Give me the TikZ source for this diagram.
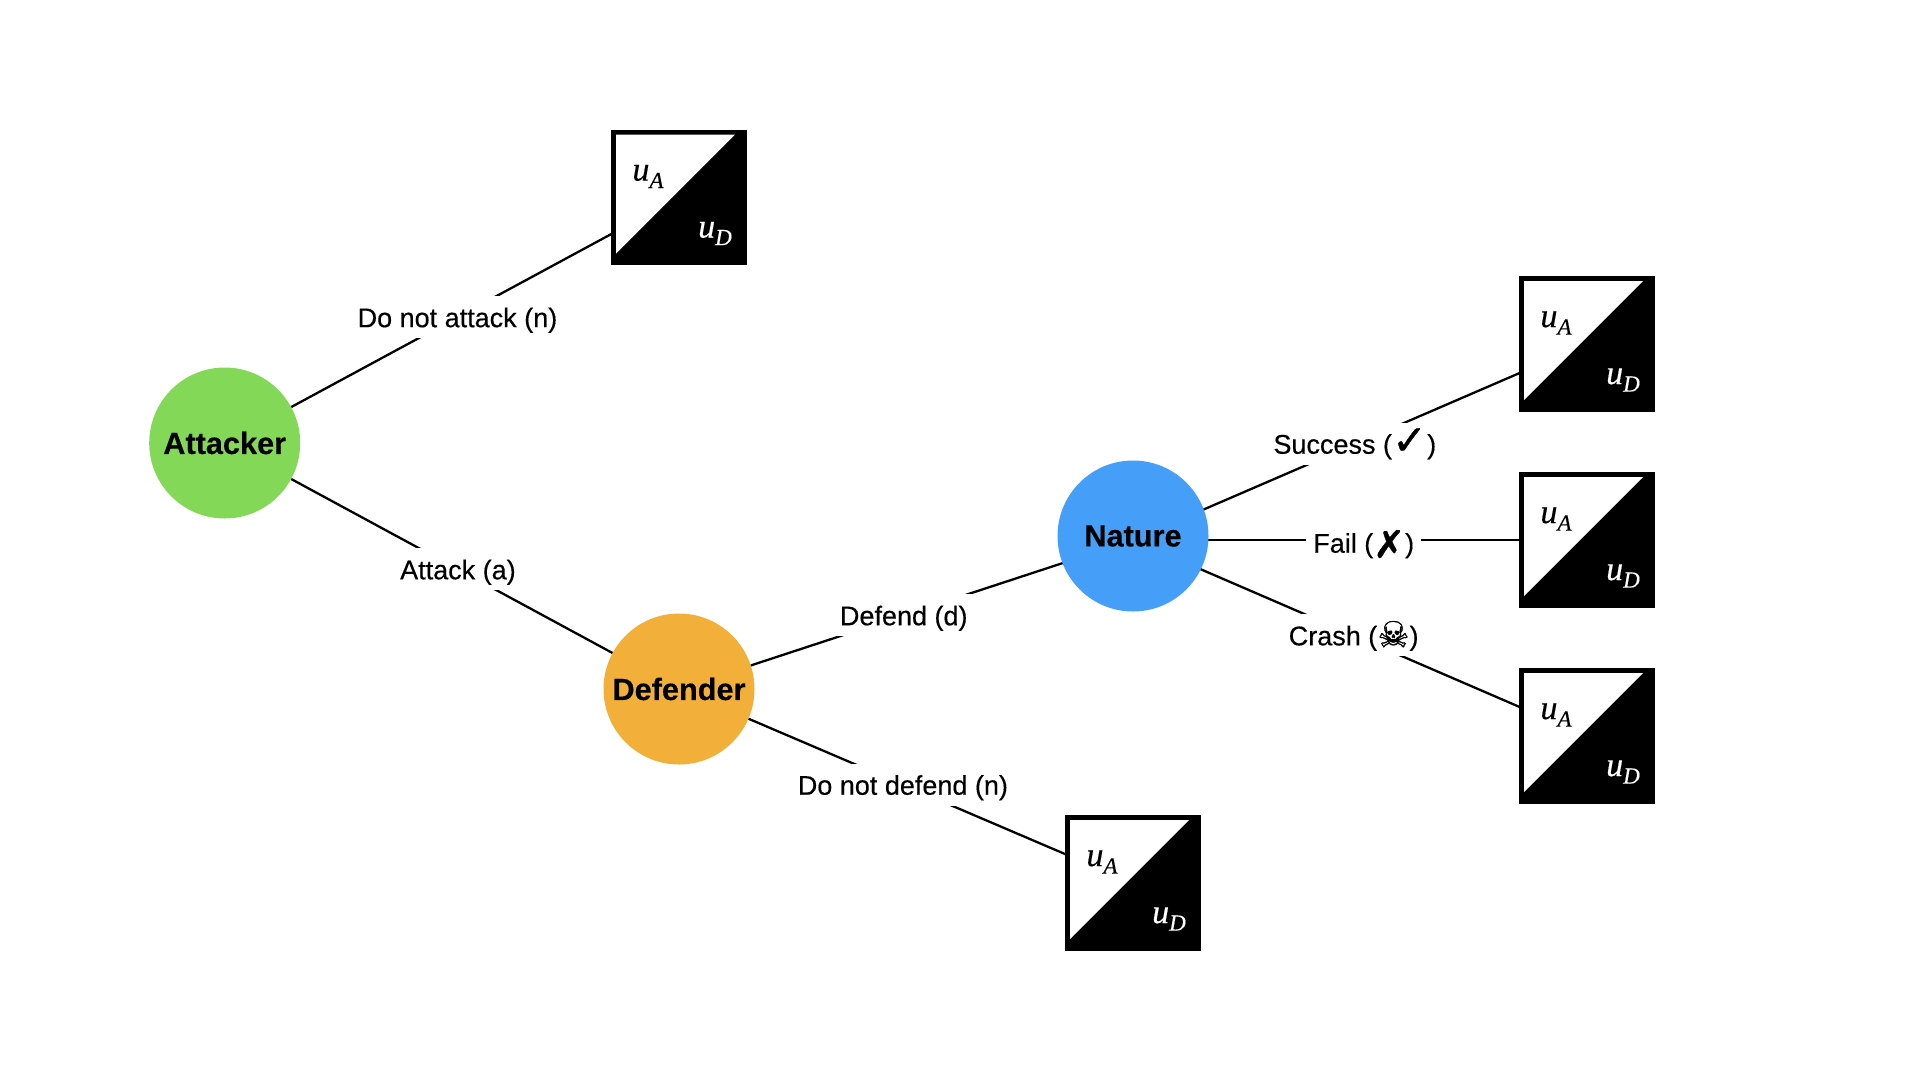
\documentclass[tikz,border=0pt]{standalone}
\usepackage{fontspec}
\setmainfont{Liberation Sans}
\newfontfamily\movefont{Liberation Sans}[FakeBold=0.35]
\newfontfamily\namefont{Liberation Sans Bold}[FakeBold=0.3]
\newfontfamily\symfont{DejaVu Sans}[FakeBold=0.8]
\newfontfamily\payfont{Liberation Serif Italic}[FakeBold=0.35]
\tikzset{
	player/.style={circle,draw=none,inner sep=0pt,minimum size=151pt,font=\namefont\fontsize{30.7}{31}\selectfont},
	payoff/.style={rectangle,draw=black,fill=black,line width=4.6pt,inner sep=0pt,minimum size=130.5pt},
	move/.style={fill=white,inner xsep=7pt,inner ysep=0pt,text height=31pt,text depth=11pt,font=\movefont\fontsize{27}{27}\selectfont},
	edge/.style={line width=2.3pt},
	util/.style={inner sep=0pt}
}
\definecolor{attackercol}{HTML}{84D858}
\definecolor{defendercol}{HTML}{F2B03B}
\definecolor{naturecol}{HTML}{459FF8}
\newcommand{\utilfont}[2]{{\payfont\fontsize{34}{34}\selectfont #1\raisebox{-7.5pt}{\fontsize{23}{23}\selectfont #2}}}
\newcommand{\bigsym}[2]{{\symfont\fontsize{#1}{#1}\selectfont #2}}
\newcommand{\payoffbox}[3]{
\node[payoff] (#1) at (#2,#3) {};
\fill[white] ([shift={(-63,-63)}]#1.center) -- ([shift={(56,-63)}]#1.center) -- ([shift={(-63,56)}]#1.center) -- cycle;
\node[util,text=black] (#1a) at ([shift={(-31,-21)}]#1.center) {\utilfont{u}{A}};
\node[util,text=white] (#1d) at ([shift={(36,36)}]#1.center) {\utilfont{u}{D}};
}
\begin{document}
\begin{tikzpicture}[x=1pt,y=-1pt]
\useasboundingbox (0,0) rectangle (1920,1080);
\node[player,fill=attackercol] (attacker) at (224.7,443) {Attacker};
\node[player,fill=defendercol] (defender) at (679,689) {Defender};
\coordinate (naturehub) at (1133,540);
\payoffbox{noattack}{679}{197.5}
\payoffbox{nodefend}{1133}{883}
\payoffbox{success}{1587}{344}
\payoffbox{fail}{1587}{540}
\payoffbox{crash}{1587}{736}
% edges, the labels sit on the line
\draw[edge] (attacker) -- node[move,pos=.519] (lnoattack) {Do not attack (n)} (noattack);
\draw[edge] (attacker) -- node[move,pos=.519] (lattack) {Attack (a)} (defender);
\draw[edge] (defender) -- node[move,pos=.40] (ldefend) {Defend (d)} (naturehub);
\draw[edge] (defender) -- node[move,pos=.487] (lnodefend) {Do not defend (n)} (nodefend);
\draw[edge] (naturehub) -- node[move,pos=.574,text height=30.5pt,text depth=11.5pt] (lsuccess) {Success (\raisebox{-1pt}{\bigsym{42}{✓}})} (success);
\draw[edge] (naturehub) -- node[move,pos=.597,text height=33.7pt,text depth=8.3pt] (lfail) {Fail (\raisebox{-5pt}{\bigsym{38}{✗}})} (fail);
\draw[edge] (naturehub) -- node[move,pos=.571] (lcrash) {Crash (\raisebox{-2pt}{\bigsym{36}{☠}})} (crash);
% nature goes over the ends of its edges
\node[player,fill=naturecol] (nature) at (1133,536) {Nature};
\end{tikzpicture}
\end{document}
